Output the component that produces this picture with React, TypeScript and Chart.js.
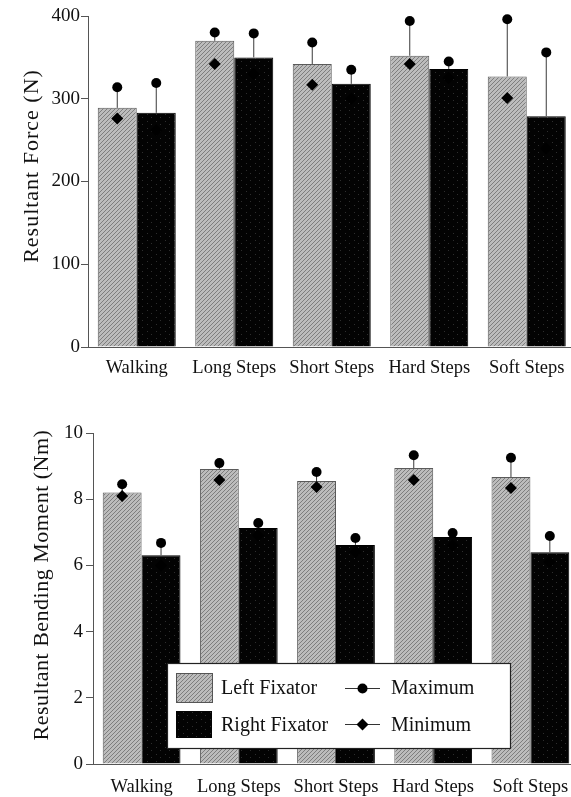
import { useEffect, useRef } from "react";
import { Chart, registerables } from "chart.js";

Chart.register(...registerables);

// ---------- data ----------
const categories = ["Walking", "Long Steps", "Short Steps", "Hard Steps", "Soft Steps"];
const seriesNames = ["Left Fixator", "Right Fixator"];
const markerNames = ["Maximum", "Minimum"];

const forceLeftMean = [289, 370, 342, 352, 327];
const forceLeftMax = [314, 380, 368, 394, 396];
const forceLeftMin = [276, 342, 317, 342, 301];
const forceRightMean = [283, 350, 318, 336, 279];
const forceRightMax = [319, 379, 335, 345, 356];
const forceRightMin = [262, 330, 300, 325, 240];
const forceTicks = [0, 100, 200, 300, 400];
const forceTitle = "Resultant Force (N)";

const momentLeftMean = [8.2, 8.91, 8.55, 8.94, 8.67];
const momentLeftMax = [8.45, 9.09, 8.82, 9.33, 9.25];
const momentLeftMin = [8.1, 8.58, 8.37, 8.58, 8.34];
const momentRightMean = [6.31, 7.13, 6.62, 6.86, 6.4];
const momentRightMax = [6.68, 7.28, 6.83, 6.98, 6.89];
const momentRightMin = [6.0, 6.9, 6.4, 6.6, 6.1];
const momentTicks = [0, 2, 4, 6, 8, 10];
const momentTitle = "Resultant Bending Moment (Nm)";

const FONT = "'Liberation Serif', 'DejaVu Serif', serif";
const INK = "#111";

function makeHatch(): CanvasPattern {
  const c = document.createElement("canvas");
  c.width = 4;
  c.height = 4;
  const g = c.getContext("2d")!;
  g.fillStyle = "#bcbcbc";
  g.fillRect(0, 0, 4, 4);
  g.fillStyle = "#7e7e7e";
  for (let i = 0; i < 4; i++) g.fillRect(3 - i, i, 1, 1);
  return g.createPattern(c, "repeat")!;
}

function makeDark(): CanvasPattern {
  const c = document.createElement("canvas");
  c.width = 9;
  c.height = 7;
  const g = c.getContext("2d")!;
  g.fillStyle = "#030303";
  g.fillRect(0, 0, 9, 7);
  g.fillStyle = "#2e2e2e";
  g.fillRect(3, 2, 1, 1);
  g.fillRect(7, 5, 1, 1);
  return g.createPattern(c, "repeat")!;
}

function diamond(ctx: CanvasRenderingContext2D, x: number, y: number, r: number) {
  ctx.beginPath();
  ctx.moveTo(x, y - r);
  ctx.lineTo(x + r, y);
  ctx.lineTo(x, y + r);
  ctx.lineTo(x - r, y);
  ctx.closePath();
  ctx.fill();
}

const markersPlugin = {
  id: "markers",
  afterDatasetsDraw(chart: any) {
    const { ctx } = chart;
    const y = chart.scales.y;
    chart.data.datasets.forEach((ds: any, di: number) => {
      const meta = chart.getDatasetMeta(di);
      meta.data.forEach((bar: any, i: number) => {
        const x = bar.x;
        const top = bar.y;
        const yMax = y.getPixelForValue(ds.maxValues[i]);
        const yMin = y.getPixelForValue(ds.minValues[i]);
        ctx.save();
        ctx.strokeStyle = "#3a3a3a";
        ctx.lineWidth = 1;
        ctx.beginPath();
        ctx.moveTo(x, top);
        ctx.lineTo(x, yMax);
        ctx.stroke();
        ctx.fillStyle = "#000";
        ctx.beginPath();
        ctx.arc(x, yMax, 5, 0, Math.PI * 2);
        ctx.fill();
        diamond(ctx, x, yMin, 6);
        ctx.restore();
      });
    });
  },
};

const yTitlePlugin = {
  id: "yTitle",
  afterDraw(chart: any, _args: any, opts: any) {
    const { ctx } = chart;
    ctx.save();
    ctx.translate(opts.x, opts.y);
    ctx.rotate(-Math.PI / 2);
    ctx.font = `${opts.size}px ${FONT}`;
    (ctx as any).letterSpacing = opts.spacing;
    ctx.textAlign = "center";
    ctx.textBaseline = "middle";
    ctx.fillStyle = INK;
    ctx.fillText(opts.text, 0, 0);
    ctx.restore();
  },
};

const legendPlugin = {
  id: "boxLegend",
  afterDraw(chart: any, _args: any, opts: any) {
    if (!opts.show) return;
    const { ctx } = chart;
    const { x, y, w, h } = opts;
    ctx.save();
    ctx.fillStyle = "#fff";
    ctx.fillRect(x, y, w, h);
    ctx.strokeStyle = "#222";
    ctx.lineWidth = 1.2;
    ctx.strokeRect(x + 0.5, y + 0.5, w, h);
    // swatches
    ctx.fillStyle = opts.hatch;
    ctx.fillRect(x + 9, y + 10, 36, 29);
    ctx.strokeStyle = "#555";
    ctx.lineWidth = 1;
    ctx.strokeRect(x + 9.5, y + 10.5, 36, 29);
    ctx.fillStyle = opts.dark;
    ctx.fillRect(x + 9, y + 48, 36, 27);
    ctx.font = `20px ${FONT}`;
    ctx.fillStyle = INK;
    ctx.textAlign = "left";
    ctx.textBaseline = "middle";
    ctx.fillText(seriesNames[0], x + 54, y + 26);
    ctx.fillText(seriesNames[1], x + 54, y + 63);
    ctx.fillText(markerNames[0], x + 224, y + 26);
    ctx.fillText(markerNames[1], x + 224, y + 63);
    // marker symbols
    ctx.strokeStyle = "#333";
    ctx.beginPath();
    ctx.moveTo(x + 178, y + 25.5);
    ctx.lineTo(x + 213, y + 25.5);
    ctx.moveTo(x + 178, y + 61.5);
    ctx.lineTo(x + 213, y + 61.5);
    ctx.stroke();
    ctx.fillStyle = "#000";
    ctx.beginPath();
    ctx.arc(x + 195.5, y + 25.5, 5, 0, Math.PI * 2);
    ctx.fill();
    diamond(ctx, x + 195.5, y + 61.5, 6);
    ctx.restore();
  },
};

interface PanelProps {
  top: number;
  height: number;
  axisLeft: number;
  areaTop: number;
  areaBottom: number;
  areaRight: number;
  max: number;
  ticks: number[];
  leftMean: number[];
  leftMax: number[];
  leftMin: number[];
  rightMean: number[];
  rightMax: number[];
  rightMin: number[];
  title: string;
  titleX: number;
  titleY: number;
  titleSpacing: string;
  tickPad: number;
  labelPad: number;
  legend: boolean;
}

const CANVAS_W = 590;

function Panel(p: PanelProps) {
  const ref = useRef<HTMLCanvasElement>(null);
  useEffect(() => {
    const hatch = makeHatch();
    const dark = makeDark();
    const chart = new Chart(ref.current!, {
      type: "bar",
      data: {
        labels: categories,
        datasets: [
          {
            label: seriesNames[0],
            data: p.leftMean,
            maxValues: p.leftMax,
            minValues: p.leftMin,
            backgroundColor: hatch,
            borderColor: "#5a5a5a",
            borderWidth: 1,
            barPercentage: 1,
            categoryPercentage: 0.8,
          } as any,
          {
            label: seriesNames[1],
            data: p.rightMean,
            maxValues: p.rightMax,
            minValues: p.rightMin,
            backgroundColor: dark,
            borderColor: "#000",
            borderWidth: 1,
            barPercentage: 1,
            categoryPercentage: 0.8,
          } as any,
        ],
      },
      options: {
        responsive: false,
        animation: false,
        devicePixelRatio: 1,
        layout: {
          padding: { left: 0, top: p.areaTop, right: CANVAS_W - p.areaRight, bottom: 0 },
        },
        plugins: {
          legend: { display: false },
          tooltip: { enabled: false },
          yTitle: { text: p.title, x: p.titleX, y: p.titleY, size: 22, spacing: p.titleSpacing },
          boxLegend: {
            show: p.legend,
            x: 167,
            y: 268,
            w: 343,
            h: 85,
            hatch,
            dark,
          },
        } as any,
        scales: {
          x: {
            type: "category",
            offset: true,
            grid: { display: false, drawTicks: false },
            border: { display: true, color: "#555", width: 1 },
            ticks: {
              color: INK,
              font: { family: FONT, size: 18.5 },
              padding: p.labelPad,
              maxRotation: 0,
              autoSkip: false,
            },
            afterFit: (s: any) => {
              s.height = p.height - p.areaBottom;
            },
          },
          y: {
            min: 0,
            max: p.max,
            afterBuildTicks: (s: any) => {
              s.ticks = p.ticks.map((v) => ({ value: v }));
            },
            ticks: {
              color: INK,
              font: { family: FONT, size: 19 },
              padding: p.tickPad,
            },
            grid: {
              display: true,
              drawOnChartArea: false,
              drawTicks: true,
              tickLength: 7,
              color: "#555",
            },
            border: { display: true, color: "#555", width: 1 },
            afterFit: (s: any) => {
              s.width = p.axisLeft;
            },
          },
        },
      },
      plugins: [markersPlugin, legendPlugin, yTitlePlugin],
    });
    return () => chart.destroy();
  }, []);
  return (
    <canvas
      ref={ref}
      width={CANVAS_W}
      height={p.height}
      style={{ position: "absolute", left: 0, top: p.top, width: CANVAS_W, height: p.height }}
    />
  );
}

export default function App() {
  return (
    <div
      style={{
        position: "fixed",
        left: 0,
        top: 0,
        width: 571,
        height: 797,
        overflow: "hidden",
        background: "#fff",
      }}
    >
      <Panel
        top={0}
        height={395}
        axisLeft={88}
        areaTop={16}
        areaBottom={347}
        areaRight={575.5}
        max={400}
        ticks={forceTicks}
        leftMean={forceLeftMean}
        leftMax={forceLeftMax}
        leftMin={forceLeftMin}
        rightMean={forceRightMean}
        rightMax={forceRightMax}
        rightMin={forceRightMin}
        title={forceTitle}
        titleX={32}
        titleY={166}
        titleSpacing="1px"
        tickPad={1}
        labelPad={10}
        legend={false}
      />
      <Panel
        top={395}
        height={402}
        axisLeft={93}
        areaTop={38}
        areaBottom={369}
        areaRight={579}
        max={10}
        ticks={momentTicks}
        leftMean={momentLeftMean}
        leftMax={momentLeftMax}
        leftMin={momentLeftMin}
        rightMean={momentRightMean}
        rightMax={momentRightMax}
        rightMin={momentRightMin}
        title={momentTitle}
        titleX={42}
        titleY={190}
        titleSpacing="0.5px"
        tickPad={3}
        labelPad={12}
        legend={true}
      />
    </div>
  );
}
